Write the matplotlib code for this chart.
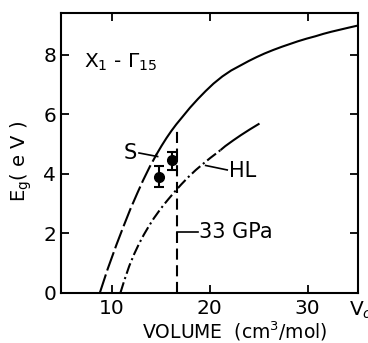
import matplotlib
matplotlib.use("Agg")
import matplotlib.pyplot as plt

# upper curve (S), dashed below ~14.6 cm3/mol
s_vol = [8.8, 9.6, 10.5, 11.2, 11.9, 12.6, 13.2, 13.9, 14.6, 15.1, 15.6, 16.1, 16.6,
         17.3, 18.0, 18.8, 19.6, 20.4, 21.3, 22.2, 23.1, 24.0, 24.8, 25.6,
         26.5, 27.4, 28.2, 29.0, 29.9, 30.8, 31.6, 32.4, 33.3, 34.2, 35.0]
s_eg = [0.0, 0.80, 1.62, 2.22, 2.80, 3.33, 3.77, 4.24, 4.66, 4.94, 5.20, 5.44, 5.66,
        5.94, 6.22, 6.51, 6.78, 7.03, 7.27, 7.47, 7.63, 7.79, 7.92, 8.04,
        8.16, 8.27, 8.36, 8.45, 8.54, 8.62, 8.70, 8.77, 8.84, 8.91, 8.97]
s_split = 8

# lower curve (HL), dash-dot below ~21 cm3/mol
hl_vol = [10.9, 11.3, 11.8, 12.3, 12.8, 13.3, 13.8, 14.3, 14.8, 15.3, 15.8, 16.5,
          17.1, 17.8, 18.6, 19.5, 20.1, 20.7, 21.2, 21.6, 22.4, 23.2, 24.1, 25.0]
hl_eg = [0.0, 0.42, 0.90, 1.30, 1.65, 1.96, 2.24, 2.50, 2.73, 2.95, 3.15, 3.42,
         3.64, 3.88, 4.13, 4.38, 4.54, 4.69, 4.82, 4.93, 5.12, 5.30, 5.49, 5.67]
hl_split = 18

# measured points
pt_vol = [14.87, 16.16]
pt_eg = [3.89, 4.47]
pt_err_lo = [0.34, 0.34]
pt_err_hi = [0.36, 0.26]

p33_vol = 16.7
p33_top = 5.55

plt.rcParams['lines.scale_dashes'] = False
fs = 15
tfs = 14.5

fig = plt.figure(figsize=(3.68, 3.43), dpi=100)
ax = fig.add_axes([0.166, 0.146, 0.807, 0.816])

ax.plot(s_vol[:s_split + 1], s_eg[:s_split + 1], color='k', lw=1.5, dashes=(14, 3))
ax.plot(s_vol[s_split:], s_eg[s_split:], color='k', lw=1.5)
ax.plot(hl_vol[:hl_split + 1], hl_eg[:hl_split + 1], color='k', lw=1.5,
        dashes=(8, 2.5, 1.5, 2.5))
ax.plot(hl_vol[hl_split:], hl_eg[hl_split:], color='k', lw=1.5)

ax.plot([p33_vol, p33_vol], [0, p33_top], color='k', lw=1.5, dashes=(8, 4))
ax.errorbar(pt_vol, pt_eg, yerr=[pt_err_lo, pt_err_hi], fmt='o', color='k', ms=7,
            capsize=3.6, elinewidth=1.5, capthick=1.5)

# labels with leader lines
ax.plot([12.8, 14.7], [4.7, 4.58], color='k', lw=1.2)
ax.text(12.6, 4.7, 'S', fontsize=fs, ha='right', va='center')
ax.plot([19.6, 21.8], [4.28, 4.13], color='k', lw=1.2)
ax.text(22.0, 4.1, 'HL', fontsize=fs, ha='left', va='center')
ax.plot([p33_vol, 18.8], [2.06, 2.06], color='k', lw=1.2)
ax.text(18.9, 2.06, '33 GPa', fontsize=fs, ha='left', va='center')
ax.text(7.2, 7.75, 'X$_1$ - Γ$_{15}$', fontsize=14.5, ha='left', va='center')

ax.set_xlim(4.85, 35.15)
ax.set_ylim(0, 9.4)
ax.set_xticks([10, 20, 30])
ax.set_yticks([0, 2, 4, 6, 8])
ax.tick_params(direction='in', length=6, width=1.3, top=True, right=True,
               labelsize=tfs)
ax.tick_params(axis='x', pad=4.5)
ax.tick_params(axis='y', pad=3.5)
for sp in ax.spines.values():
    sp.set_linewidth(1.5)

ax.text(34.25, -0.6, 'V$_o$', fontsize=tfs, ha='left', va='center',
        clip_on=False)
ax.set_xlabel('VOLUME  (cm$^3$/mol)', fontsize=13.5)
ax.xaxis.set_label_coords(0.585, -0.095)
ax.set_ylabel('E$_\\mathrm{g}$( e V )', fontsize=14)
ax.yaxis.set_label_coords(-0.09, 0.47)

fig.savefig('out.png', dpi=100)
